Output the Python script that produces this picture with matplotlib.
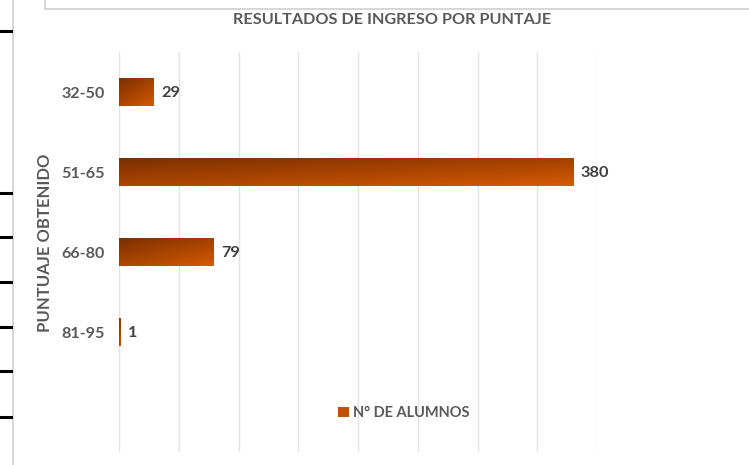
import numpy as np
import matplotlib
matplotlib.use('Agg')
import matplotlib.pyplot as plt
from matplotlib.colors import LinearSegmentedColormap
from matplotlib.lines import Line2D
from matplotlib.patches import Patch

# ─────────────────────────────────────────────
# data
# ─────────────────────────────────────────────
categories = ['32-50', '51-65', '66-80', '81-95']
alumnos = [29, 380, 79, 1]
x_ticks = [0, 50, 100, 150, 200, 250, 300, 350, 400]

TITLE = 'RESULTADOS DE INGRESO POR PUNTAJE'
YLABEL = 'PUNTUAJE OBTENIDO'
SERIES = 'N° DE ALUMNOS'

TEXT_C = '#595959'
GRID_C = '#e3e3e3'
cmap = LinearSegmentedColormap.from_list('excel_orange', ['#7a3000', '#a84300', '#d65a04'])

plt.rcParams['font.family'] = ['Lato', 'DejaVu Sans']

W, H = 749, 465
fig = plt.figure(figsize=(W / 100, H / 100), dpi=100)
fig.patch.set_facecolor('white')

# plot area (pixel box of the reference)
ax = fig.add_axes([119 / W, 1 - 452 / H, (597 - 119) / W, (452 - 52) / H])
ax.set_facecolor('none')

n_slots = len(categories) + 1       # excel leaves an empty slot for the legend
ax.set_xlim(x_ticks[0], x_ticks[-1])
ax.set_ylim(n_slots - 0.5, -0.5)

ax.set_xticks(x_ticks)
ax.set_xticklabels([])
ax.tick_params(axis='x', length=0)
ax.grid(axis='x', color=GRID_C, lw=1.0, zorder=0)
ax.set_axisbelow(True)
for sp in ax.spines.values():
    sp.set_visible(False)

ax.set_yticks(range(len(categories)))
ax.set_yticklabels(categories, fontsize=11.6, fontweight='bold', color=TEXT_C)
ax.tick_params(axis='y', length=0, pad=10.5)

# ── gradient bars ────────────────────────────
bar_h = 0.35
gu, gv = np.meshgrid(np.linspace(0, 1, 200), np.linspace(0, 1, 60))
grad = 0.45 * gu + 0.55 * gv
for i, v in enumerate(alumnos):
    ax.imshow(grad, cmap=cmap, vmin=0, vmax=1, aspect='auto',
              extent=[0, v, i + bar_h / 2, i - bar_h / 2],
              interpolation='bilinear', zorder=2)
    ax.annotate(str(v), (v, i), xytext=(5.5, -1), textcoords='offset points',
                ha='left', va='center', fontsize=11.8, fontweight='bold',
                color='#404040', zorder=3)
ax.set_xlim(x_ticks[0], x_ticks[-1])
ax.set_ylim(n_slots - 0.5, -0.5)

fig.text(392 / W, 1 - 20 / H, TITLE, ha='center', va='center',
         fontsize=11.7, fontweight='bold', color=TEXT_C)

fig.text(45 / W, 1 - 243 / H, YLABEL, rotation=90, ha='center', va='center',
         fontsize=12, fontweight='bold', color=TEXT_C)

leg = fig.legend(handles=[Patch(facecolor='#c0500a', edgecolor='none', label=SERIES)],
                 loc='center', bbox_to_anchor=(404 / W, 1 - 413 / H), frameon=False,
                 handlelength=0.7, handleheight=0.7, handletextpad=0.3,
                 prop={'size': 10.5, 'weight': 'bold'})
for t in leg.get_texts():
    t.set_color(TEXT_C)

# ── surrounding sheet decorations ────────────
fig.add_artist(Line2D([13 / W, 13 / W], [0, 1], color='#d9d9d9', lw=1.5))
for yp in [31, 193, 237, 282, 327, 371, 417]:
    fig.add_artist(Line2D([0, 11 / W], [1 - yp / H, 1 - yp / H], color='black', lw=2.2))
fig.add_artist(Line2D([45 / W, 45 / W], [1, 1 - 9 / H], color='#d0d0d0', lw=1.2))
fig.add_artist(Line2D([45 / W, 749 / W], [1 - 9 / H, 1 - 9 / H], color='#d0d0d0', lw=1.2))

fig.savefig('out.png', dpi=100, facecolor='white')
